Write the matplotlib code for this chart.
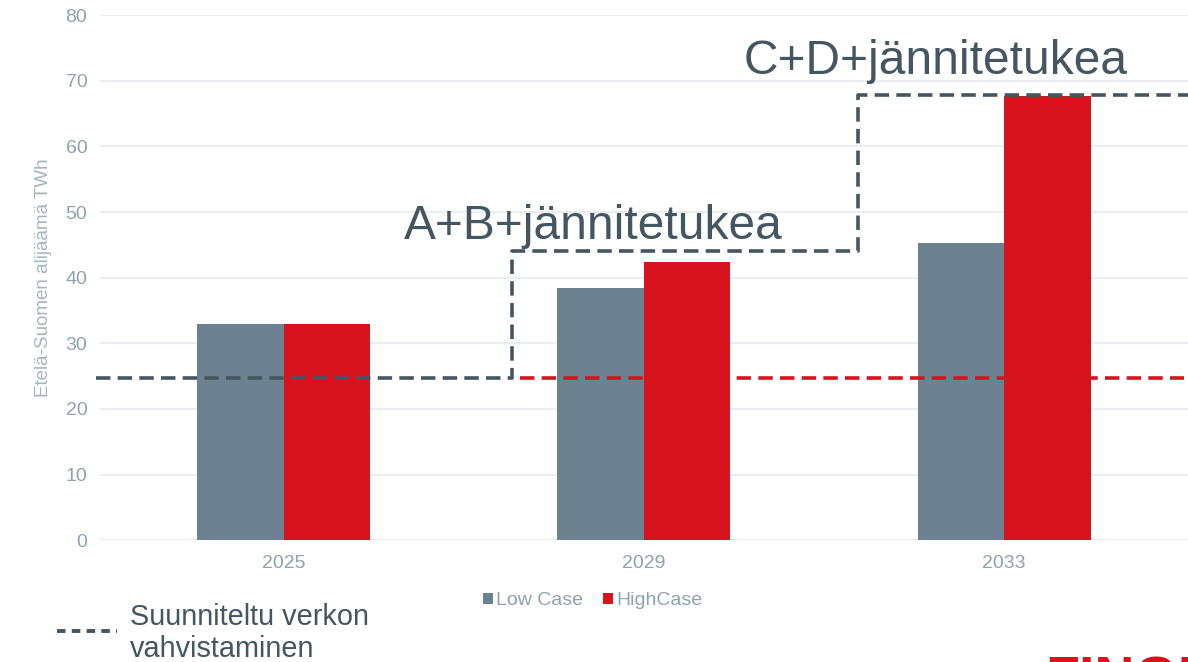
import matplotlib
matplotlib.use("Agg")
import matplotlib.pyplot as plt
import numpy as np

plt.rcParams['font.family'] = ['Liberation Sans', 'DejaVu Sans']

years = ["2025", "2029", "2033"]
low_case = [33.0, 38.4, 45.3]
high_case = [33.0, 42.4, 67.7]

# planned grid reinforcement (step line) and current level
step_x = [-0.52, 0.635, 1.595, 2.53]
step_y = [24.7, 44.0, 67.8, 67.8]
base_x = [0.655, 2.50]
base_y = [24.7, 24.7]

labels_steps = ["A+B+jännitetukea", "C+D+jännitetukea"]
yticks = [0, 10, 20, 30, 40, 50, 60, 70, 80]

c_low = "#6d8290"
c_high = "#d7141e"
c_dark = "#44565f"
c_tick = "#8fa3ad"

fig = plt.figure(figsize=(11.88, 6.62), dpi=100)
ax = fig.add_axes([0.084, 0.184, 0.916, 0.793])

x = np.arange(len(years))
w = 0.24
ax.bar(x - w, low_case, width=w, align='edge', color=c_low, zorder=2, label="Low Case")
ax.bar(x, high_case, width=w, align='edge', color=c_high, zorder=2, label="HighCase")

ax.plot(step_x, step_y, drawstyle='steps-post', color=c_dark, lw=2.6,
        dashes=(4, 2), zorder=3, clip_on=False)
ax.plot(base_x, base_y, color=c_high, lw=2.6, dashes=(4, 2), zorder=3)

ax.set_xlim(-0.51, 2.51)
ax.set_ylim(0, 80)
ax.set_yticks(yticks)
ax.set_xticks(x)
ax.set_xticklabels(years)
ax.tick_params(axis='both', length=0, colors=c_tick, labelsize=14)
ax.tick_params(axis='y', pad=9)
ax.tick_params(axis='x', pad=11)
ax.grid(axis='y', color="#e6ebee", lw=1.2, zorder=0)
for s in ax.spines.values():
    s.set_visible(False)
ax.axhline(0, color="#dfe5e8", lw=1.5, zorder=1)

ax.set_ylabel("Etelä-Suomen alijäämä TWh", color="#a3b6be", fontsize=13.5, labelpad=10)

ax.text(0.335, 47.8, labels_steps[0], fontsize=34.5, color=c_dark, ha='left', va='center')
ax.text(1.277, 73.0, labels_steps[1], fontsize=34.5, color=c_dark, ha='left', va='center')

leg = ax.legend(loc='center', bbox_to_anchor=(0.453, -0.115), ncol=2, frameon=False,
                fontsize=14, handlelength=0.5, handleheight=0.5, handletextpad=0.2,
                columnspacing=1.0, labelcolor=c_tick)

# dashed-line key at the bottom left
fig.lines.append(plt.Line2D([57 / 1188, 117 / 1188], [1 - 631 / 662, 1 - 631 / 662],
                            transform=fig.transFigure, color=c_dark, lw=2.8, dashes=(2.2, 1.6)))
fig.text(130 / 1188, 1 - 633 / 662, "Suunniteltu verkon\nvahvistaminen", fontsize=20.8,
         color=c_dark, ha='left', va='center', linespacing=1.2)

# logo partly outside the canvas
fig.text(1045 / 1188, 1 - 655 / 662, "FINGRID", fontsize=40, fontweight='bold',
         color=c_high, ha='left', va='top')

fig.savefig("out.png", dpi=100)
